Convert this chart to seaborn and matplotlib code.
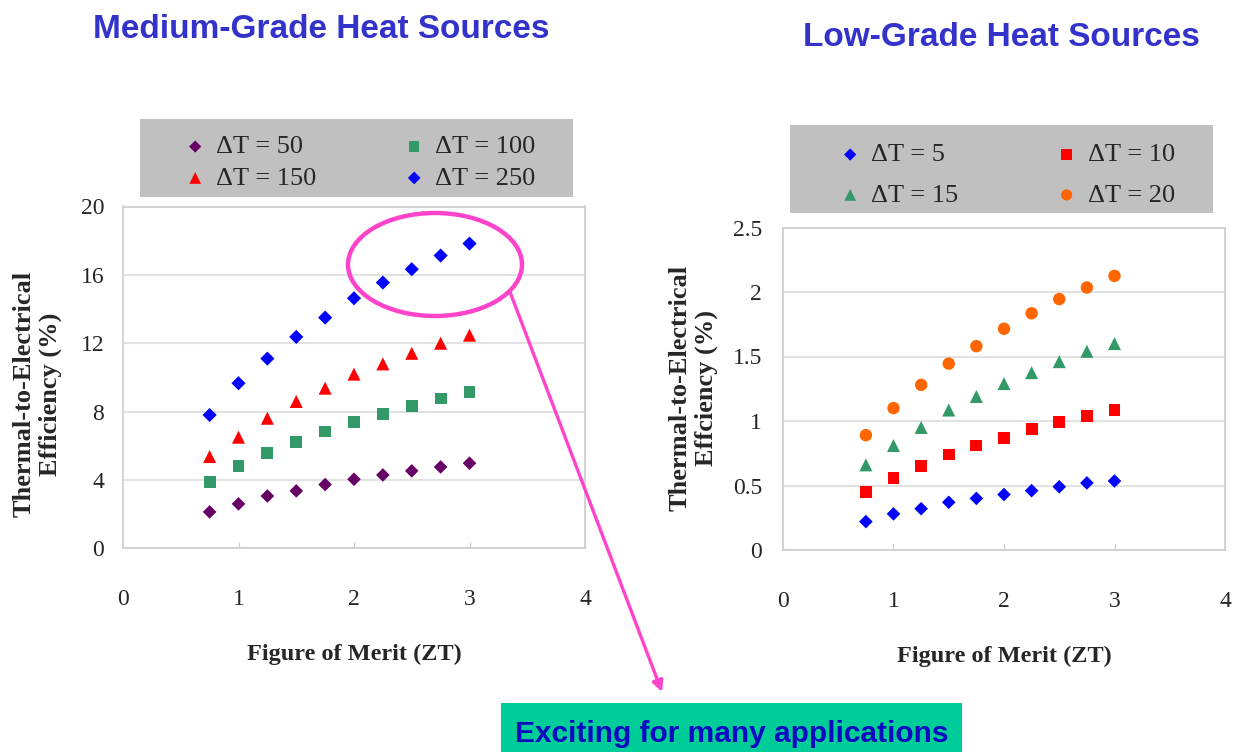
import numpy as np
import pandas as pd
import matplotlib
matplotlib.use("Agg")
import matplotlib.pyplot as plt
import seaborn as sns
from matplotlib.patches import Ellipse, Rectangle
from matplotlib.font_manager import FontProperties

# ---------------- data ----------------
zt = [0.75, 1.0, 1.25, 1.5, 1.75, 2.0, 2.25, 2.5, 2.75, 3.0]

med_labels = ["\u0394T = 50", "\u0394T = 100", "\u0394T = 150", "\u0394T = 250"]
med_dt50 = [2.13, 2.60, 3.06, 3.36, 3.73, 4.04, 4.29, 4.53, 4.76, 4.98]
med_dt100 = [3.86, 4.80, 5.58, 6.24, 6.83, 7.41, 7.86, 8.33, 8.76, 9.13]
med_dt150 = [5.37, 6.50, 7.61, 8.59, 9.37, 10.19, 10.79, 11.41, 12.00, 12.47]
med_dt250 = [7.80, 9.66, 11.10, 12.37, 13.50, 14.63, 15.55, 16.33, 17.13, 17.83]

low_labels = ["\u0394T = 5", "\u0394T = 10", "\u0394T = 15", "\u0394T = 20"]
low_dt5 = [0.22, 0.28, 0.32, 0.37, 0.40, 0.43, 0.46, 0.49, 0.52, 0.535]
low_dt10 = [0.45, 0.56, 0.65, 0.74, 0.81, 0.87, 0.935, 0.995, 1.04, 1.085]
low_dt15 = [0.66, 0.81, 0.95, 1.085, 1.19, 1.29, 1.375, 1.46, 1.54, 1.60]
low_dt20 = [0.89, 1.10, 1.28, 1.445, 1.58, 1.715, 1.835, 1.945, 2.035, 2.125]

med_xticks = [0, 1, 2, 3, 4]
med_yticks = [0, 4, 8, 12, 16, 20]
low_yticks = [0, 0.5, 1, 1.5, 2, 2.5]
low_yticklabels = ["0", "0.5", "1", "1.5", "2", "2.5"]

# ---------------- style ----------------
sns.set_style("white")
plt.rcParams["font.family"] = ["Liberation Serif", "DejaVu Serif"]

W, H = 1237, 752
fig = plt.figure(figsize=(W / 100, H / 100), dpi=100)


def rect(x0, y0, x1, y1):
    return [x0 / W, 1 - y1 / H, (x1 - x0) / W, (y1 - y0) / H]


# background overlay (legend boxes, titles)
bg = fig.add_axes([0, 0, 1, 1])
bg.set_xlim(0, W)
bg.set_ylim(H, 0)
bg.axis("off")
bg.patch.set_visible(False)
bg.set_zorder(-1)

ax1 = fig.add_axes(rect(123, 206.5, 585, 548.3))
ax2 = fig.add_axes(rect(783, 227.5, 1225, 550))

TITLE_C = "#3333cc"
bg.text(321.5, 38, "Medium-Grade Heat Sources", ha="center", va="baseline",
        fontsize=24, fontweight="bold", color=TITLE_C, family="Liberation Sans")
bg.text(1001, 46.5, "Low-Grade Heat Sources", ha="center", va="baseline",
        fontsize=24, fontweight="bold", color=TITLE_C, family="Liberation Sans")

bg.add_patch(Rectangle((140, 119), 433, 78, facecolor="#c0c0c0", edgecolor="none"))
bg.add_patch(Rectangle((790, 125), 423, 88, facecolor="#c0c0c0", edgecolor="none"))

# ---------------- scatter series ----------------
med_series = [med_dt50, med_dt100, med_dt150, med_dt250]
med_markers = ["D", "s", "^", "D"]
med_colors = ["#660066", "#339966", "#ff0000", "#0000ff"]
med_sizes = [48, 72, 88, 52]

low_series = [low_dt5, low_dt10, low_dt15, low_dt20]
low_markers = ["D", "s", "^", "o"]
low_colors = ["#0000ff", "#ff0000", "#339966", "#ff6600"]
low_sizes = [48, 72, 88, 80]

for vals, lab, mk, col, s in zip(med_series, med_labels, med_markers, med_colors, med_sizes):
    sns.scatterplot(x=zt, y=vals, ax=ax1, marker=mk, color=col, s=s,
                    edgecolor="none", linewidth=0, label=lab)
for vals, lab, mk, col, s in zip(low_series, low_labels, low_markers, low_colors, low_sizes):
    sns.scatterplot(x=zt, y=vals, ax=ax2, marker=mk, color=col, s=s,
                    edgecolor="none", linewidth=0, label=lab)


def style_axes(ax, ylim, yticks, yticklabels, ypad):
    ax.set_xlim(0, 4)
    ax.set_ylim(*ylim)
    ax.set_xticks(med_xticks)
    ax.set_xticklabels([str(t) for t in med_xticks])
    ax.set_yticks(yticks)
    ax.set_yticklabels(yticklabels)
    ax.yaxis.grid(True, color="#e2e2e2", lw=1.5)
    ax.xaxis.grid(False)
    ax.set_axisbelow(True)
    for sp in ax.spines.values():
        sp.set_visible(True)
        sp.set_color("#d0d0d0")
        sp.set_linewidth(1.3)
    ax.tick_params(axis="x", direction="in", length=4, color="#c8c8c8",
                   labelsize=17, pad=29.5, bottom=True)
    ax.tick_params(axis="y", length=0, labelsize=17, pad=ypad)


style_axes(ax1, (0, 20), med_yticks, [str(t) for t in med_yticks], 13.5)
style_axes(ax2, (0, 2.5), low_yticks, low_yticklabels, 15)

lab_kw = dict(fontsize=17.5, fontweight="bold")
ax1.set_xlabel("Figure of Merit (ZT)", **lab_kw)
ax1.xaxis.label.set_va("baseline")
ax1.xaxis.set_label_coords(0.5, (548.3 - 660) / 341.8)
ax2.set_xlabel("Figure of Merit (ZT)", **lab_kw)
ax2.xaxis.label.set_va("baseline")
ax2.xaxis.set_label_coords(0.5, (550 - 662) / 322.5)

ax1.set_ylabel("Thermal-to-Electrical\nEfficiency (%)", fontsize=19,
               fontweight="bold", linespacing=1.15)
ax1.yaxis.label.set_va("center")
ax1.yaxis.set_label_coords((37 - 123) / 462, (548.3 - 394) / 341.8)
ax2.set_ylabel("Thermal-to-Electrical\nEffciency (%)", fontsize=19,
               fontweight="bold", linespacing=1.15)
ax2.yaxis.label.set_va("center")
ax2.yaxis.set_label_coords((693 - 783) / 442, (550 - 388) / 322.5)

# ---------------- legends ----------------
legfont = FontProperties(family="Liberation Serif", size=19)
h1, l1 = ax1.get_legend_handles_labels()
order = [0, 2, 1, 3]
ax1.legend([h1[i] for i in order], [l1[i] for i in order], ncol=2,
           loc="upper left", bbox_to_anchor=(182 / W, 1 - 135 / H),
           bbox_transform=fig.transFigure, frameon=False, prop=legfont,
           handlelength=1.0, handletextpad=0.3, columnspacing=3.2,
           labelspacing=0.3, borderpad=0, borderaxespad=0,
           scatterpoints=1, markerscale=0.9)
h2, l2 = ax2.get_legend_handles_labels()
ax2.legend([h2[i] for i in order], [l2[i] for i in order], ncol=2,
           loc="upper left", bbox_to_anchor=(837 / W, 1 - 143 / H),
           bbox_transform=fig.transFigure, frameon=False, prop=legfont,
           handlelength=1.0, handletextpad=0.3, columnspacing=3.6,
           labelspacing=0.64, borderpad=0, borderaxespad=0,
           scatterpoints=1, markerscale=0.9)

# ---------------- foreground overlay (ellipse, arrow, callout) ----------------
ov = fig.add_axes([0, 0, 1, 1])
ov.set_xlim(0, W)
ov.set_ylim(H, 0)
ov.axis("off")
ov.patch.set_visible(False)
ov.set_zorder(10)

PINK = "#ff44cc"
ov.add_patch(Ellipse((435, 264.5), 174, 103, fill=False, edgecolor=PINK, lw=3.2))
ov.annotate("", xy=(662, 692), xytext=(510, 292),
            arrowprops=dict(arrowstyle="-|>", color=PINK, lw=2.4,
                            mutation_scale=16, shrinkA=0, shrinkB=0))
ov.add_patch(Rectangle((501, 703), 461, 60, facecolor="#00cc99", edgecolor="none"))
ov.text(731.5, 742, "Exciting for many applications", ha="center", va="baseline",
        fontsize=21.5, fontweight="bold", color="#0a0ac0", family="Liberation Sans")

fig.savefig("out.png", dpi=100)
